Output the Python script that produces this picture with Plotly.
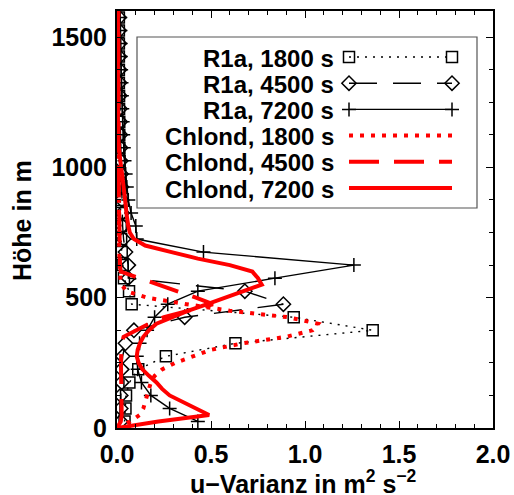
import plotly.graph_objects as go

# ---- R1a profiles (heights in m, u-variance in m^2 s^-2) ----
z_r1a = [25, 75, 125, 175, 225, 275, 325, 375, 425, 475, 525, 575, 625, 675,
         725, 775, 825, 875, 925, 975, 1025, 1075, 1125, 1175, 1225, 1275,
         1325, 1375, 1425, 1475, 1525, 1575]
r1a_1800 = [0.04, 0.045, 0.048, 0.066, 0.113, 0.26, 0.63, 1.36, 0.94, 0.078,
            0.064, 0.037, 0.03, 0.025, 0.022, 0.02, 0.018, 0.017, 0.016, 0.015,
            0.014, 0.013, 0.012, 0.012, 0.011, 0.011, 0.01, 0.01, 0.01, 0.01,
            0.01, 0.01]
r1a_4500 = [0.02, 0.02, 0.02, 0.025, 0.025, 0.03, 0.045, 0.09, 0.36, 0.885,
            0.68, 0.06, 0.06, 0.045, 0.035, 0.03, 0.028, 0.026, 0.024, 0.022,
            0.02, 0.019, 0.018, 0.017, 0.016, 0.015, 0.014, 0.014, 0.013, 0.013,
            0.012, 0.012]
r1a_7200 = [0.43, 0.28, 0.18, 0.13, 0.11, 0.105, 0.12, 0.16, 0.20, 0.27, 0.43,
            0.84, 1.26, 0.46, 0.105, 0.10, 0.075, 0.06, 0.052, 0.046, 0.04,
            0.036, 0.033, 0.03, 0.028, 0.026, 0.024, 0.022, 0.02, 0.019, 0.018,
            0.017]

# ---- Chlond profiles ----
z_chl = [0, 25, 50, 75, 100, 125, 150, 175, 200, 225, 250, 275, 300, 325, 350,
         375, 400, 425, 450, 475, 500, 525, 550, 575, 600, 625, 650, 675, 700,
         725, 750, 775, 800, 825, 850, 875, 900, 925, 950, 975, 1000, 1100,
         1200, 1300, 1400, 1500, 1600]
chl_1800 = [0.0, 0.07, 0.12, 0.14, 0.15, 0.16, 0.17, 0.18, 0.20, 0.24, 0.31,
            0.40, 0.50, 0.67, 0.90, 1.04, 1.07, 0.91, 0.60, 0.37, 0.16, 0.05,
            0.025, 0.018, 0.015, 0.014, 0.013, 0.012, 0.012, 0.011, 0.011, 0.01,
            0.01, 0.01, 0.01, 0.009, 0.009, 0.009, 0.008, 0.008, 0.008, 0.007,
            0.007, 0.006, 0.006, 0.006, 0.006]
chl_4500 = [0.0, 0.02, 0.025, 0.024, 0.023, 0.022, 0.022, 0.021, 0.021, 0.021,
            0.021, 0.022, 0.023, 0.026, 0.035, 0.10, 0.17, 0.25, 0.38, 0.51,
            0.42, 0.32, 0.23, 0.13, 0.02, 0.016, 0.015, 0.014, 0.013, 0.013,
            0.012, 0.012, 0.011, 0.011, 0.01, 0.01, 0.01, 0.01, 0.009, 0.009,
            0.009, 0.008, 0.008, 0.007, 0.007, 0.007, 0.007]
chl_7200 = [0.0, 0.22, 0.49, 0.42, 0.35, 0.28, 0.24, 0.21, 0.17, 0.135, 0.115,
            0.105, 0.11, 0.122, 0.14, 0.17, 0.21, 0.29, 0.38, 0.48, 0.58, 0.67,
            0.77, 0.75, 0.72, 0.60, 0.43, 0.29, 0.15, 0.09, 0.068, 0.06, 0.053,
            0.05, 0.047, 0.044, 0.04, 0.036, 0.032, 0.027, 0.022, 0.006, 0.005,
            0.005, 0.005, 0.005, 0.005]

x_tickvals = [0.0, 0.5, 1.0, 1.5, 2.0]
x_ticktext = ["0.0", "0.5", "1.0", "1.5", "2.0"]
y_tickvals = [0, 500, 1000, 1500]
y_ticktext = ["0", "500", "1000", "1500"]
x_title = "u\u2212Varianz in m<sup>2</sup> s<sup>\u22122</sup>"
y_title = "Höhe in m"

FONT = "Liberation Sans"
RED = "#ff0000"
BLACK = "#000000"

# style per series: (label, x, z, line, marker)
series = [
    ("R1a, 1800 s", r1a_1800, z_r1a,
     dict(color=BLACK, width=1.4, dash="2px,6px"),
     dict(symbol="square-open", size=11, color=BLACK, line=dict(width=1.5, color=BLACK))),
    ("R1a, 4500 s", r1a_4500, z_r1a,
     dict(color=BLACK, width=1.4, dash="28px,16px"),
     dict(symbol="diamond-open", size=11, color=BLACK, line=dict(width=1.5, color=BLACK))),
    ("R1a, 7200 s", r1a_7200, z_r1a,
     dict(color=BLACK, width=1.4),
     dict(symbol="cross-thin-open", size=10, color=BLACK, line=dict(width=1.5, color=BLACK))),
    ("Chlond, 1800 s", chl_1800, z_chl,
     dict(color=RED, width=4, dash="4px,7px"), None),
    ("Chlond, 4500 s", chl_4500, z_chl,
     dict(color=RED, width=4, dash="30px,15px"), None),
    ("Chlond, 7200 s", chl_7200, z_chl,
     dict(color=RED, width=4), None),
]

fig = go.Figure()
for name, xv, zv, ln, mk in series:
    fig.add_trace(go.Scatter(
        x=xv, y=zv, name=name, mode="lines+markers" if mk else "lines",
        line=ln, marker=mk, showlegend=False, xaxis="x", yaxis="y"))

# ---- legend box placed in pixel units on a hidden overlay axis ----
W, H = 514, 495
PX_L, PX_R, PX_T, PX_B = 117, 493, 11, 428
box = dict(x0=137, x1=477, y0=37, y1=208)
row_y0, row_dy = 57, 26.2
text_right = 336
key_x = [349, 452]
for i, (name, xv, zv, ln, mk) in enumerate(series):
    ry = row_y0 + i * row_dy
    fig.add_trace(go.Scatter(
        x=key_x, y=[ry, ry], mode="lines+markers" if mk else "lines",
        line=ln, marker=mk, showlegend=False, xaxis="x2", yaxis="y2",
        hoverinfo="skip"))
    fig.add_annotation(
        x=text_right, y=ry + 1, xref="x2", yref="y2", text=name,
        xanchor="right", yanchor="middle", showarrow=False,
        font=dict(family=FONT, size=24, color=BLACK, weight="bold"))

fig.add_shape(type="rect", xref="x2", yref="y2", **box,
              line=dict(color="#555555", width=1.2))


def to_paper(px, py):
    """Pixel position -> paper coordinates of the plot area."""
    return (px - PX_L) / (PX_R - PX_L), (PX_B - py) / (PX_B - PX_T)


axis_font = dict(family=FONT, size=25, color=BLACK, weight="bold")
xt_x, xt_y = to_paper(303, 482)
yt_x, yt_y = to_paper(22, 221)
fig.add_annotation(x=xt_x, y=xt_y, xref="paper", yref="paper", text=x_title,
                   xanchor="center", yanchor="middle", showarrow=False,
                   font=axis_font)
fig.add_annotation(x=yt_x, y=yt_y, xref="paper", yref="paper", text=y_title,
                   textangle=-90, xanchor="center", yanchor="middle",
                   showarrow=False, font=axis_font)

fig.update_layout(
    width=W, height=H,
    margin=dict(l=PX_L, r=W - PX_R, t=PX_T, b=H - PX_B),
    paper_bgcolor="white", plot_bgcolor="white",
    showlegend=False,
    xaxis=dict(
        range=[0, 2], tickvals=x_tickvals, ticktext=x_ticktext,
        ticks="inside", ticklen=7, tickwidth=1.3, tickcolor=BLACK,
        minor=dict(ticks="inside", ticklen=4, dtick=0.1, tickwidth=1, tickcolor=BLACK),
        showline=True, linewidth=2, linecolor=BLACK, mirror="allticks",
        showgrid=False, zeroline=False, tickfont=axis_font,
        ticklabelstandoff=3, automargin=False,
    ),
    yaxis=dict(
        range=[0, 1600], tickvals=y_tickvals, ticktext=y_ticktext,
        ticks="inside", ticklen=7, tickwidth=1.3, tickcolor=BLACK,
        minor=dict(ticks="inside", ticklen=4, dtick=125, tickwidth=1, tickcolor=BLACK),
        showline=True, linewidth=2, linecolor=BLACK, mirror="allticks",
        showgrid=False, zeroline=False, tickfont=axis_font,
        ticklabelstandoff=3, automargin=False,
    ),
    xaxis2=dict(overlaying="x", range=[PX_L, PX_R], visible=False,
                anchor="y2", fixedrange=True),
    yaxis2=dict(overlaying="y", range=[PX_B, PX_T], visible=False,
                anchor="x2", fixedrange=True),
)

fig.write_html("out.html")
